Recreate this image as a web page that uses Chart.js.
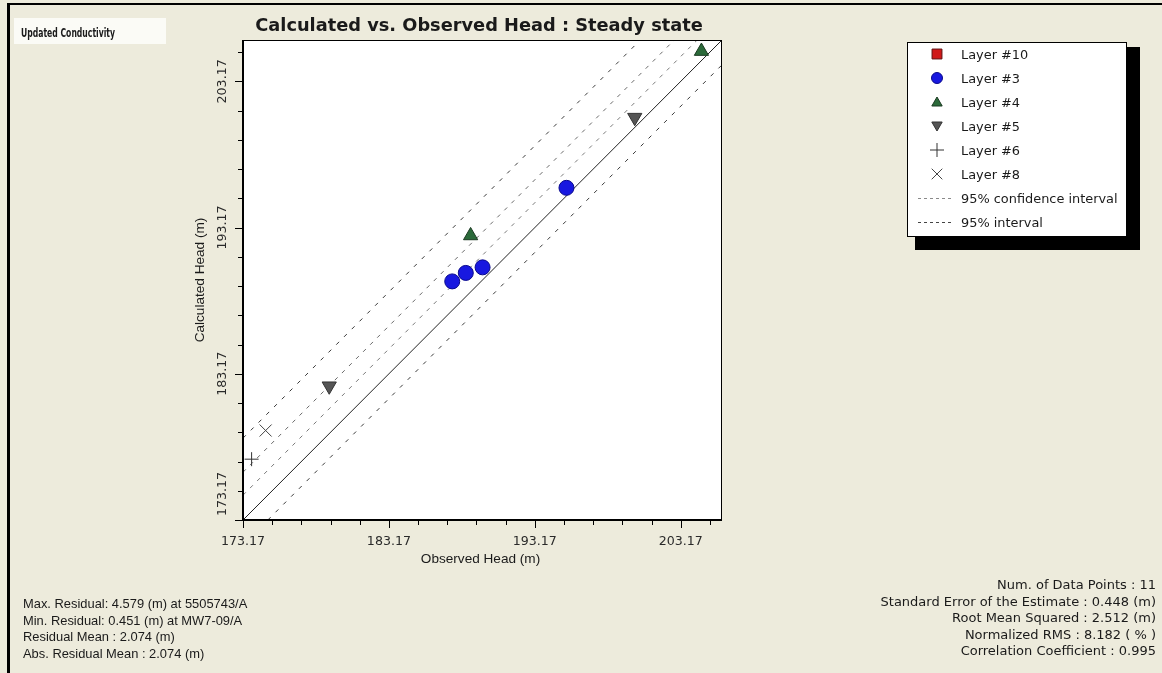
<!DOCTYPE html>
<html>
<head>
<meta charset="utf-8">
<script src="https://cdn.jsdelivr.net/npm/chart.js@4/dist/chart.umd.min.js"></script>
<style>
html,body{margin:0;padding:0;background:#EDEBDC;overflow:hidden}
#wrap{position:relative;width:1162px;height:673px}
canvas{display:block}
</style>
</head>
<body>
<div id="wrap"><canvas id="c" width="1162" height="673"></canvas></div>
<script>
// ---------- text ----------
const chartTitle = 'Calculated vs. Observed Head : Steady state';
const xAxisTitle = 'Observed Head (m)';
const yAxisTitle = 'Calculated Head (m)';
const runLabel = 'Updated Conductivity';
const statsLeft = [
  'Max. Residual: 4.579 (m) at 5505743/A',
  'Min. Residual: 0.451 (m) at MW7-09/A',
  'Residual Mean : 2.074 (m)',
  'Abs. Residual Mean : 2.074 (m)'
];
const statsRight = [
  'Num. of Data Points : 11',
  'Standard Error of the Estimate : 0.448 (m)',
  'Root Mean Squared : 2.512 (m)',
  'Normalized RMS : 8.182 ( % )',
  'Correlation Coefficient : 0.995'
];

// ---------- axes ----------
const axisMin = 173.17;
const axisMax = 206.0;
const tickValues = [173.17,175.17,177.17,179.17,181.17,183.17,185.17,187.17,189.17,
                    191.17,193.17,195.17,197.17,199.17,201.17,203.17,205.17];
const majorTickLabels = ['173.17','183.17','193.17','203.17'];

// ---------- series (observed, calculated) ----------
const layer10Observed   = [187.51];
const layer10Calculated = [189.49];
const layer3Observed    = [187.51, 188.44, 189.59, 195.34];
const layer3Calculated  = [189.49, 190.07, 190.45, 195.89];
const layer4Observed    = [188.77, 204.59];
const layer4Calculated  = [192.62, 205.23];
const layer5Observed    = [179.08, 200.02];
const layer5Calculated  = [182.33, 200.70];
const layer6Observed    = [173.76];
const layer6Calculated  = [177.33];
const layer8Observed    = [174.72];
const layer8Calculated  = [179.29];

// reference lines (end points)
const idealObserved      = [173.17, 206.00];
const idealCalculated    = [173.17, 206.00];
const confInnerObserved  = [173.17, 204.30];
const confInnerCalculated= [174.87, 206.00];
const confOuterObserved  = [173.17, 202.73];
const confOuterCalculated= [176.44, 206.00];
const intUpperObserved   = [173.17, 200.40];
const intUpperCalculated = [178.77, 206.00];
const intLowerObserved   = [174.87, 206.00];
const intLowerCalculated = [173.17, 204.30];

const legendLabels = ['Layer #10','Layer #3','Layer #4','Layer #5','Layer #6','Layer #8','95% confidence interval','95% interval'];

function pts(xs, ys){ return xs.map((x,i)=>({x:x, y:ys[i]})); }

const BG = '#EDEBDC';

const markerSets = [
  {label:legendLabels[0], data:pts(layer10Observed,layer10Calculated), pointStyle:'rect', pointRadius:6,
   backgroundColor:'#d01818', borderColor:'#601010', pointBorderWidth:1, order:3, legendRadius:7},
  {label:legendLabels[1], data:pts(layer3Observed,layer3Calculated), pointStyle:'circle', pointRadius:7.5,
   backgroundColor:'#1818e0', borderColor:'#0a0a8c', pointBorderWidth:1, order:1, legendRadius:5.5},
  {label:legendLabels[2], data:pts(layer4Observed,layer4Calculated), pointStyle:'triangle', pointRadius:8.2,
   backgroundColor:'#2b6a3a', borderColor:'#1b3a22', pointBorderWidth:1, order:1, legendRadius:6},
  {label:legendLabels[3], data:pts(layer5Observed,layer5Calculated), pointStyle:'triangle', pointRotation:180, pointRadius:8.2,
   backgroundColor:'#555555', borderColor:'#333333', pointBorderWidth:1, order:1, legendRadius:6},
  {label:legendLabels[4], data:pts(layer6Observed,layer6Calculated), pointStyle:'cross', pointRadius:7,
   backgroundColor:'#333333', borderColor:'#333333', pointBorderWidth:1, order:1, legendRadius:7},
  {label:legendLabels[5], data:pts(layer8Observed,layer8Calculated), pointStyle:'crossRot', pointRadius:8.5,
   backgroundColor:'#444444', borderColor:'#444444', pointBorderWidth:1, order:1, legendRadius:7.5}
];

function lineSet(label, xs, ys, color, dash, width){
  return {label:label, data:pts(xs,ys), showLine:true, pointRadius:0, borderColor:color,
          borderWidth:width, borderDash:dash, fill:false, order:10};
}

const datasets = markerSets.concat([
  lineSet('1:1', idealObserved, idealCalculated, '#222222', [], 1),
  lineSet(legendLabels[6], confInnerObserved, confInnerCalculated, '#7a7a7a', [4,6], 1),
  lineSet(legendLabels[6], confOuterObserved, confOuterCalculated, '#6a6a6a', [4,6], 1),
  lineSet(legendLabels[7], intUpperObserved, intUpperCalculated, '#3a3a3a', [4,7], 1),
  lineSet(legendLabels[7], intLowerObserved, intLowerCalculated, '#3a3a3a', [4,7], 1)
]);

function drawMarker(ctx, style, r, rot, x, y, fill, stroke){
  ctx.save();
  ctx.fillStyle = fill; ctx.strokeStyle = stroke; ctx.lineWidth = 1;
  if (Chart.helpers && Chart.helpers.drawPoint) {
    Chart.helpers.drawPoint(ctx, {pointStyle:style, radius:r, rotation:rot||0, borderWidth:1}, x, y);
  }
  ctx.restore();
}

const decorPlugin = {
  id:'decor',
  beforeDraw(chart){
    const ctx = chart.ctx, a = chart.chartArea;
    ctx.save();
    ctx.fillStyle = BG; ctx.fillRect(0,0,chart.width,chart.height);
    ctx.fillStyle = '#000';
    ctx.fillRect(7,3,chart.width-7,2);
    ctx.fillRect(7,3,3,chart.height-3);
    // run label box
    ctx.fillStyle = '#fbfbf6'; ctx.fillRect(14,18,152,26);
    ctx.fillStyle = '#1a1a1a';
    ctx.font = 'bold 12px "DejaVu Sans Condensed","DejaVu Sans",sans-serif';
    ctx.textAlign='left'; ctx.textBaseline='alphabetic';
    const w = ctx.measureText(runLabel).width;
    ctx.save(); ctx.translate(21, 37); ctx.scale(94 / w, 1);
    ctx.fillText(runLabel, 0, 0); ctx.restore();
    // plot background
    ctx.fillStyle = '#ffffff'; ctx.fillRect(a.left,a.top,a.right-a.left,a.bottom-a.top);
    ctx.restore();
  },
  afterDraw(chart){
    const ctx = chart.ctx, a = chart.chartArea;
    const xs = chart.scales.x, ys = chart.scales.y;
    ctx.save();
    // frame of plot
    ctx.fillStyle = '#000';
    ctx.fillRect(a.left-1, a.top, 2, a.bottom-a.top+1);
    ctx.fillRect(a.left-1, a.bottom-1, a.right-a.left+1, 2);
    ctx.fillRect(a.left, a.top, a.right-a.left, 1);
    ctx.fillRect(a.right-1, a.top, 1, a.bottom-a.top);
    // ticks
    ctx.strokeStyle = '#000'; ctx.lineWidth = 1;
    xs.ticks.forEach(t=>{
      const px = Math.round(xs.getPixelForValue(t.value))+0.5;
      const major = majorTickLabels.indexOf(t.value.toFixed(2))>=0;
      ctx.beginPath(); ctx.moveTo(px,a.bottom); ctx.lineTo(px,a.bottom+(major?8:5)); ctx.stroke();
    });
    ys.ticks.forEach(t=>{
      const py = Math.round(ys.getPixelForValue(t.value))+0.5;
      const major = majorTickLabels.indexOf(t.value.toFixed(2))>=0;
      ctx.beginPath(); ctx.moveTo(a.left,py); ctx.lineTo(a.left-(major?8:5),py); ctx.stroke();
    });
    // tick labels
    ctx.fillStyle = '#2a2a2a';
    ctx.font = '12.6px "DejaVu Sans",sans-serif';
    ctx.textAlign = 'center'; ctx.textBaseline = 'alphabetic';
    xs.ticks.forEach(t=>{
      const lab = t.value.toFixed(2);
      if (majorTickLabels.indexOf(lab)<0) return;
      ctx.fillText(lab, xs.getPixelForValue(t.value), 545);
    });
    ys.ticks.forEach(t=>{
      const lab = t.value.toFixed(2);
      if (majorTickLabels.indexOf(lab)<0) return;
      const half = ctx.measureText(lab).width/2;
      let py = ys.getPixelForValue(t.value);
      py = Math.min(py, a.bottom-half-4);
      ctx.save(); ctx.translate(226, py); ctx.rotate(-Math.PI/2);
      ctx.fillText(lab, 0, 0); ctx.restore();
    });
    // axis titles
    ctx.fillStyle = '#1a1a1a';
    ctx.font = '13.6px "Liberation Sans",Arial,sans-serif';
    ctx.fillText(xAxisTitle, (a.left+a.right)/2 - 2, 563);
    ctx.save(); ctx.translate(204, (a.top+a.bottom)/2); ctx.rotate(-Math.PI/2);
    ctx.fillText(yAxisTitle, 0, 0); ctx.restore();
    // title
    ctx.fillStyle = '#1a1a1a';
    ctx.font = 'bold 17.8px "DejaVu Sans",sans-serif';
    ctx.fillText(chartTitle, 479, 31);
    // stats
    ctx.textAlign = 'left';
    ctx.font = '12.9px "Liberation Sans",Arial,sans-serif';
    statsLeft.forEach((s,i)=>ctx.fillText(s, 23, 608 + i*16.5));
    ctx.textAlign = 'right';
    ctx.font = '13px "DejaVu Sans",sans-serif';
    statsRight.forEach((s,i)=>ctx.fillText(s, 1156, 589 + i*16.5));
    // legend
    ctx.fillStyle = '#000'; ctx.fillRect(915,47,225,203);
    ctx.fillStyle = '#fff'; ctx.fillRect(907,42,220,195);
    ctx.strokeStyle = '#000'; ctx.lineWidth = 1; ctx.strokeRect(907.5,42.5,219,194);
    const rows = [54,78,102,126,150,174,198,222];
    markerSets.forEach((d,i)=>{
      drawMarker(ctx, d.pointStyle, d.legendRadius, d.pointRotation||0, 937, rows[i] + (d.pointStyle==='triangle'?(d.pointRotation?-1:1):0), d.backgroundColor, d.borderColor);
    });
    const lineSamples = [
      {y:rows[6], color:'#8a8a8a'},
      {y:rows[7], color:'#444444'}
    ];
    lineSamples.forEach(s=>{
      ctx.save(); ctx.strokeStyle = s.color; ctx.setLineDash([3,3]);
      ctx.beginPath(); ctx.moveTo(918, s.y+0.5); ctx.lineTo(951, s.y+0.5); ctx.stroke(); ctx.restore();
    });
    ctx.fillStyle = '#1a1a1a'; ctx.textAlign = 'left';
    ctx.font = '12.9px "DejaVu Sans",sans-serif';
    legendLabels.forEach((l,i)=>ctx.fillText(l, 961, rows[i]+4.5));
    ctx.restore();
  }
};

function setTicks(scale){ scale.ticks = tickValues.map(v=>({value:v})); }

new Chart(document.getElementById('c'), {
  type:'scatter',
  data:{datasets:datasets},
  options:{
    responsive:false, animation:false, devicePixelRatio:1,
    layout:{padding:{left:183, top:40, right:440, bottom:93}},
    plugins:{legend:{display:false}, tooltip:{enabled:false}, title:{display:false}},
    scales:{
      x:{type:'linear', position:'bottom', min:axisMin, max:axisMax,
         afterBuildTicks:setTicks, afterFit:s=>{s.height=60;},
         grid:{display:false}, ticks:{display:false}, border:{display:false}},
      y:{type:'linear', position:'left', min:axisMin, max:axisMax,
         afterBuildTicks:setTicks, afterFit:s=>{s.width=60;},
         grid:{display:false}, ticks:{display:false}, border:{display:false}}
    }
  },
  plugins:[decorPlugin]
});
</script>
</body>
</html>
